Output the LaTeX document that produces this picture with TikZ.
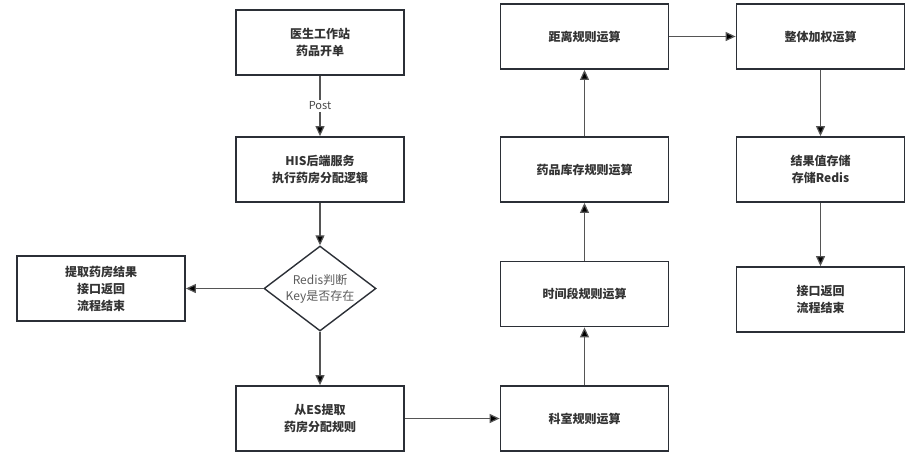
\documentclass[tikz,border=0pt]{standalone}
\usepackage{fontspec}
\setmainfont{Noto Sans CJK SC}
\usepackage{xcolor}
\usepackage{tikz}
\usetikzlibrary{arrows.meta,shapes.geometric}

\definecolor{boxline}{HTML}{2B2F36}
\definecolor{arrline}{HTML}{555555}
\definecolor{txt}{HTML}{333333}

\begin{document}
\begin{tikzpicture}[x=1pt, y=-1pt,
    box/.style={rectangle, draw=boxline, line width=1.8pt, minimum width=168pt, minimum height=65pt, align=center, text=txt, font=\bfseries\fontsize{12}{17}\selectfont},
    test/.style={diamond, aspect=1.35, draw=boxline, line width=1.4pt, minimum width=112pt, minimum height=85pt, inner sep=0pt, align=center, text=txt!80, font=\fontsize{12}{16}\selectfont},
    arr/.style={draw=arrline, line width=1.2pt, -{Triangle[length=10pt, width=9pt]}},
    lbl/.style={fill=white, inner sep=1.5pt, text=txt!90, font=\fontsize{11}{13}\selectfont}]
        \useasboundingbox (0, 0) rectangle (915, 451);
        \clip (0, 0) rectangle (915, 451);
        \node (1) at (320, 42.5) [box] {医生工作站\\药品开单};
        \node (2) at (320, 169.5) [box] {HIS后端服务\\执行药房分配逻辑};
        \node (3) at (320, 288.5) [test] {Redis判断\\Key是否存在};
        \node (4) at (101, 288.5) [box] {提取药房结果\\接口返回\\流程结束};
        \node (5) at (320, 418.5) [box] {从ES提取\\药房分配规则};
        \node (6) at (584.5, 418.5) [box] {科室规则运算};
        \node (7) at (584.5, 294) [box] {时间段规则运算};
        \node (8) at (584.5, 169.5) [box] {药品库存规则运算};
        \node (9) at (584.5, 36.5) [box] {距离规则运算};
        \node (10) at (820.5, 36.5) [box] {整体加权运算};
        \node (11) at (820.5, 169.5) [box] {结果值存储\\存储Redis};
        \node (12) at (820.5, 299.5) [box] {接口返回\\流程结束};
        \draw [arr] (1) edge node [lbl] {Post} (2);
        \draw [arr] (2) edge (3);
        \draw [arr] (3) edge (4);
        \draw [arr] (3) edge (5);
        \draw [arr] (5) edge (6);
        \draw [arr] (6) edge (7);
        \draw [arr] (7) edge (8);
        \draw [arr] (8) edge (9);
        \draw [arr] (9) edge (10);
        \draw [arr] (10) edge (11);
        \draw [arr] (11) edge (12);
    \end{tikzpicture}
\end{document}
